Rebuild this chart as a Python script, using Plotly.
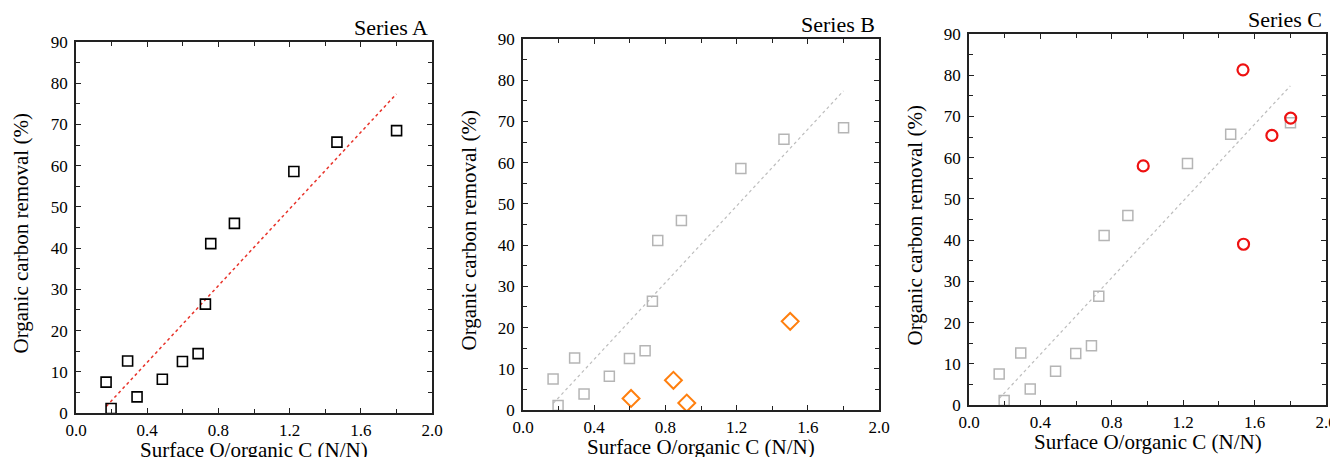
import plotly.graph_objects as go

# ---- data ----
base_x = [0.169, 0.197, 0.290, 0.343, 0.485, 0.598, 0.686, 0.727, 0.757, 0.890, 1.224, 1.466, 1.801]
base_y = [7.5, 1.1, 12.6, 3.9, 8.2, 12.5, 14.4, 26.4, 41.1, 46.0, 58.6, 65.7, 68.5]
fit_x = [0.17, 1.80]
fit_y = [1.6, 77.4]
b_x = [0.607, 0.845, 0.920, 1.501]
b_y = [2.8, 7.2, 1.7, 21.5]
c_x = [0.976, 1.535, 1.538, 1.697, 1.802]
c_y = [58.0, 81.3, 39.0, 65.4, 69.6]
panel_titles = ["Series A", "Series B", "Series C"]
x_title = "Surface O/organic C (N/N)"
y_title = "Organic carbon removal (%)"
x_ticks = [0.0, 0.4, 0.8, 1.2, 1.6, 2.0]
y_ticks = [0, 10, 20, 30, 40, 50, 60, 70, 80, 90]

OFF = 8  # page body margin
W, H = 1338 - OFF, 457 - OFF
FONT = "Liberation Serif"

# panel pixel boxes on screen: (left, right, top, bottom)
boxes = [(76, 432, 42, 413), (523, 879, 39, 410), (969, 1326, 34, 405)]

def px(x):
    return (x - OFF) / W

def py(y):
    return 1 - (y - OFF) / H

fig = go.Figure()

def ax_common():
    return dict(showgrid=False, zeroline=False, showline=True, linecolor="#222222", linewidth=1.6,
                mirror="allticks", ticks="inside", ticklen=5, tickwidth=1.3, tickcolor="#222222",
                tickfont=dict(family=FONT, size=17, color="black"))

for i, (l, r, t, b) in enumerate(boxes):
    n = "" if i == 0 else str(i + 1)
    xa = ax_common()
    xa.update(domain=[px(l), px(r)], range=[0, 2.0], tickvals=x_ticks,
              ticktext=[f"{v:.1f}" for v in x_ticks], ticklabelstandoff=1,
              minor=dict(dtick=0.2, tick0=0, ticks="inside", ticklen=4, tickcolor="#222222", tickwidth=1.2),
              anchor="y" + n)
    ya = ax_common()
    ya.update(domain=[py(b), py(t)], range=[0, 90], tickvals=y_ticks, ticklabelstandoff=3,
              minor=dict(dtick=5, tick0=0, ticks="inside", ticklen=4, tickcolor="#222222", tickwidth=1.2),
              anchor="x" + n)
    fig.update_layout(**{"xaxis" + n: xa, "yaxis" + n: ya})

    if i == 0:
        fig.add_trace(go.Scatter(x=fit_x, y=fit_y, mode="lines", xaxis="x", yaxis="y",
                                 line=dict(color="#e8332a", width=1.5, dash="dot"), showlegend=False))
        fig.add_trace(go.Scatter(x=base_x, y=base_y, mode="markers", xaxis="x", yaxis="y",
                                 marker=dict(symbol="square-open", size=10, color="black",
                                             line=dict(width=1.6, color="black")), showlegend=False))
    else:
        fig.add_trace(go.Scatter(x=fit_x, y=fit_y, mode="lines", xaxis="x" + n, yaxis="y" + n,
                                 line=dict(color="#bdbdbd", width=1.2, dash="3px,3px"), showlegend=False))
        fig.add_trace(go.Scatter(x=base_x, y=base_y, mode="markers", xaxis="x" + n, yaxis="y" + n,
                                 marker=dict(symbol="square-open", size=10, color="#b5b5b5",
                                             line=dict(width=1.5, color="#b5b5b5")), showlegend=False))
        if i == 1:
            fig.add_trace(go.Scatter(x=b_x, y=b_y, mode="markers", xaxis="x2", yaxis="y2",
                                     marker=dict(symbol="diamond-open", size=13, color="#ff7f0e",
                                                 line=dict(width=2, color="#ff7f0e")), showlegend=False))
        else:
            fig.add_trace(go.Scatter(x=c_x, y=c_y, mode="markers", xaxis="x3", yaxis="y3",
                                     marker=dict(symbol="circle-open", size=11, color="#ee1111",
                                                 line=dict(width=2.2, color="#ee1111")), showlegend=False))

    # panel title
    fig.add_annotation(text=panel_titles[i], x=px(r - 2), y=py(t - 15), xref="paper", yref="paper",
                       xanchor="right", yanchor="middle", showarrow=False,
                       font=dict(family=FONT, size=22, color="black"))
    # x title
    fig.add_annotation(text=x_title, x=px((l + r) / 2), y=py(b + 37), xref="paper", yref="paper",
                       xanchor="center", yanchor="middle", showarrow=False,
                       font=dict(family=FONT, size=21, color="black"))
    # y title
    fig.add_annotation(text=y_title, x=px(l - 55), y=py((t + b) / 2 + 6), xref="paper", yref="paper",
                       xanchor="center", yanchor="middle", textangle=-90, showarrow=False,
                       font=dict(family=FONT, size=21, color="black"))

fig.update_layout(width=W, height=H, margin=dict(l=0, r=0, t=0, b=0, autoexpand=False),
                  font=dict(family=FONT, color="black"),
                  paper_bgcolor="white", plot_bgcolor="white", showlegend=False)

fig.write_html("out.html")
